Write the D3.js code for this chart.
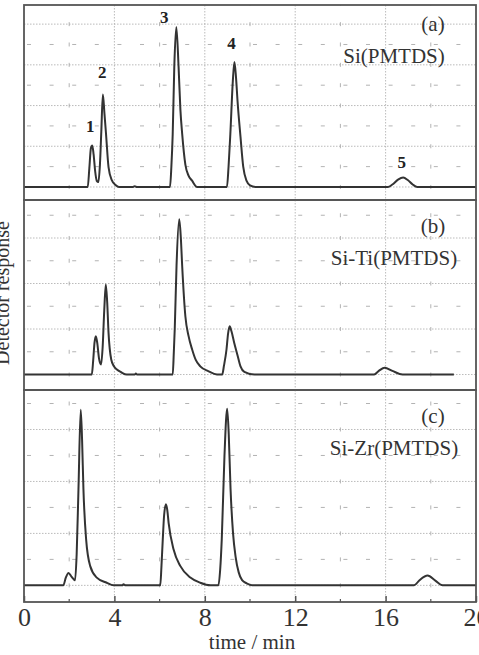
<!DOCTYPE html>
<html>
<head>
<meta charset="utf-8">
<script src="https://cdn.jsdelivr.net/npm/d3@7"></script>
<style>
  body { margin: 0; background: #fff; }
  svg { display: block; font-family: "Liberation Serif", "Times New Roman", serif; }
</style>
</head>
<body>
<svg id="chart" width="479" height="655"></svg>
<script>
// x ticks (time / min)
var majorTicks = [0, 4, 8, 12, 16, 20];
var minorTicks = [2, 6, 10, 14, 18];

// chromatogram traces: [time, response] (response in grid units)
var traceA = [[0,0],[2.82,0],[2.89,0.45],[2.96,0.95],[3.02,1.02],[3.08,0.8],[3.15,0.38],[3.22,0.15],[3.29,0.12],
  [3.36,0.55],[3.42,1.35],[3.49,2.27],[3.56,1.8],[3.63,1.3],[3.74,0.49],[3.89,0.16],[4.05,0.05],[4.2,0],
  [4.8,0],[4.9,0.02],[5.0,0],[6.46,0],[6.52,0.49],[6.58,1.3],[6.65,2.95],[6.74,3.93],[6.84,2.95],[6.92,1.9],
  [7.0,1.3],[7.14,0.55],[7.28,0.28],[7.43,0.16],[7.66,0],[8.98,0],[9.05,0.49],[9.13,1.3],[9.24,2.6],[9.31,3.07],
  [9.38,2.7],[9.45,2.1],[9.58,1.23],[9.7,0.5],[9.85,0.15],[10.0,0.04],[10.24,0],[16.1,0],[16.3,0.06],
  [16.55,0.18],[16.78,0.23],[16.98,0.17],[17.2,0.06],[17.4,0],[20,0]];

var traceB = [[0,0],[3.0,0],[3.06,0.3],[3.12,0.7],[3.18,0.84],[3.24,0.7],[3.32,0.35],[3.41,0.22],[3.48,0.6],
  [3.55,1.4],[3.62,1.98],[3.68,1.6],[3.74,0.92],[3.86,0.33],[3.98,0.18],[4.11,0.11],[4.3,0.05],[4.55,0],
  [4.9,0],[4.95,0.02],[5.0,0],[6.58,0],[6.63,0.5],[6.67,1.0],[6.75,2.4],[6.87,3.41],[6.94,3.0],[7.0,2.38],
  [7.14,1.28],[7.28,0.85],[7.44,0.55],[7.6,0.32],[7.8,0.18],[8.17,0.07],[8.54,0],[8.77,0],[8.85,0.2],
  [8.96,0.55],[9.03,0.9],[9.1,1.06],[9.18,0.95],[9.3,0.7],[9.45,0.42],[9.58,0.18],[9.75,0.06],[10.2,0],
  [15.49,0],[15.7,0.08],[15.96,0.15],[16.3,0.08],[16.75,0],[19.02,0]];

var traceC = [[0,0],[1.74,0],[1.85,0.15],[1.97,0.24],[2.1,0.17],[2.26,0.1],[2.33,0.6],[2.41,1.85],[2.51,3.38],
  [2.57,2.8],[2.63,1.85],[2.75,0.88],[2.93,0.37],[3.22,0.15],[3.66,0.05],[3.96,0],[4.35,0],[4.4,0.02],[4.5,0],
  [6.03,0],[6.08,0.35],[6.14,0.88],[6.2,1.35],[6.28,1.56],[6.34,1.45],[6.4,1.2],[6.62,0.69],[6.92,0.37],
  [7.36,0.15],[7.8,0.05],[8.25,0],[8.6,0],[8.68,0.3],[8.75,0.88],[8.87,2.49],[8.99,3.4],[9.06,2.9],[9.14,1.85],
  [9.25,1.0],[9.36,0.56],[9.5,0.25],[9.65,0.1],[9.85,0.04],[10.1,0],[17.26,0],[17.5,0.1],[17.86,0.19],
  [18.2,0.09],[18.52,0],[20,0]];

// peak numbers in panel (a): [label, time, response]
var peakLabels = [["1", 2.93, 1.35], ["2", 3.46, 2.67], ["3", 6.21, 4.02], ["4", 9.18, 3.39], ["5", 16.72, 0.47]];

// panel names and sample names
var panelTags = ["(a)", "(b)", "(c)"];
var sampleNames = ["Si(PMTDS)", "Si-Ti(PMTDS)", "Si-Zr(PMTDS)"];
var yExtents = [[-0.32, 4.47], [-0.34, 3.835], [-0.32, 3.76]];
var yMajor = [0, 1, 2, 3, 4];
var yMinor = [0.5, 1.5, 2.5, 3.5];

var svg = d3.select("#chart");
var left = 24, right = 476;
var panelBox = [[5, 200], [200, 390], [390, 602]];
var x = d3.scaleLinear().domain([0, 20]).range([left, right]);

var traces = [traceA, traceB, traceC];
var ink = "#333";

traces.forEach(function(trace, i) {
  var top = panelBox[i][0], bottom = panelBox[i][1];
  var y = d3.scaleLinear().domain(yExtents[i]).range([bottom, top]);
  var g = svg.append("g");

  // grid: dotted majors, sparse dashed minors
  var hMajor = yMajor.filter(function(v) { return v < yExtents[i][1]; });
  g.selectAll(".hmaj").data(hMajor).enter().append("line")
    .attr("x1", left).attr("x2", right)
    .attr("y1", function(d) { return y(d); }).attr("y2", function(d) { return y(d); })
    .attr("stroke", "#aaa").attr("stroke-width", 0.8).attr("stroke-dasharray", "1.5,1.5");
  g.selectAll(".hmin").data(yMinor).enter().append("line")
    .attr("x1", left).attr("x2", right)
    .attr("y1", function(d) { return y(d); }).attr("y2", function(d) { return y(d); })
    .attr("stroke", "#aaa").attr("stroke-width", 0.9)
    .attr("stroke-dasharray", "4," + (x(1) - x(0) - 4)).attr("stroke-dashoffset", -3);
  g.selectAll(".vmaj").data([4, 8, 12, 16]).enter().append("line")
    .attr("x1", function(d) { return x(d); }).attr("x2", function(d) { return x(d); })
    .attr("y1", top).attr("y2", bottom)
    .attr("stroke", "#aaa").attr("stroke-width", 0.8).attr("stroke-dasharray", "1.5,1.5");
  var half = (y(0) - y(0.5));
  g.selectAll(".vmin").data(minorTicks).enter().append("line")
    .attr("x1", function(d) { return x(d); }).attr("x2", function(d) { return x(d); })
    .attr("y1", y(yExtents[i][1])).attr("y2", bottom)
    .attr("stroke", "#aaa").attr("stroke-width", 0.9)
    .attr("stroke-dasharray", "4," + (half - 4)).attr("stroke-dashoffset", 2 - ((y(0.5) - top) % half));

  // trace
  var line = d3.line()
    .x(function(d) { return x(d[0]); })
    .y(function(d) { return y(d[1]); })
    .curve(d3.curveMonotoneX);
  g.append("path").datum(trace)
    .attr("d", line)
    .attr("fill", "none").attr("stroke", ink).attr("stroke-width", 2)
    .attr("stroke-linejoin", "round");

  // panel tag and sample name
  g.append("text").attr("x", 433).attr("y", top + (i == 0 ? 26 : 33))
    .attr("text-anchor", "middle").attr("font-size", 21).attr("fill", "#333")
    .text(panelTags[i]);
  g.append("text").attr("x", 394).attr("y", top + (i == 0 ? 58 : 65))
    .attr("text-anchor", "middle").attr("font-size", 21).attr("fill", "#333")
    .text(sampleNames[i]);

  if (i == 0) {
    g.selectAll(".peak").data(peakLabels).enter().append("text")
      .attr("x", function(d) { return x(d[1]); })
      .attr("y", function(d) { return y(d[2]); })
      .attr("text-anchor", "middle").attr("font-size", 17).attr("font-weight", "bold").attr("fill", "#222")
      .text(function(d) { return d[0]; });
  }

  // panel frame
  g.append("rect").attr("x", left).attr("y", top)
    .attr("width", right - left).attr("height", bottom - top)
    .attr("fill", "none").attr("stroke", "#555").attr("stroke-width", 1.8);
});

// bottom axis, ticks pointing inward
var axisY = panelBox[2][1];
var axis = d3.axisBottom(x).tickValues(majorTicks).tickSize(-6).tickPadding(12).tickFormat(d3.format("d"));
var ax = svg.append("g").attr("transform", "translate(0," + axisY + ")").call(axis);
ax.select(".domain").remove();
ax.selectAll(".tick line").attr("stroke", "#555").attr("stroke-width", 1.5);
ax.selectAll(".tick text").attr("font-size", 26).attr("fill", "#333")
  .attr("font-family", "Liberation Serif, serif").attr("dy", "0.48em");
svg.append("g").selectAll("line").data(minorTicks).enter().append("line")
  .attr("x1", function(d) { return x(d); }).attr("x2", function(d) { return x(d); })
  .attr("y1", axisY).attr("y2", axisY - 3)
  .attr("stroke", "#555").attr("stroke-width", 1.2);

// axis titles
svg.append("text").attr("x", x(10) + 2).attr("y", 649)
  .attr("text-anchor", "middle").attr("font-size", 21).attr("fill", "#333")
  .text("time / min");
svg.append("text").attr("transform", "translate(9,293) rotate(-90)")
  .attr("text-anchor", "middle").attr("font-size", 20).attr("fill", "#333")
  .text("Detector response");
</script>
</body>
</html>
